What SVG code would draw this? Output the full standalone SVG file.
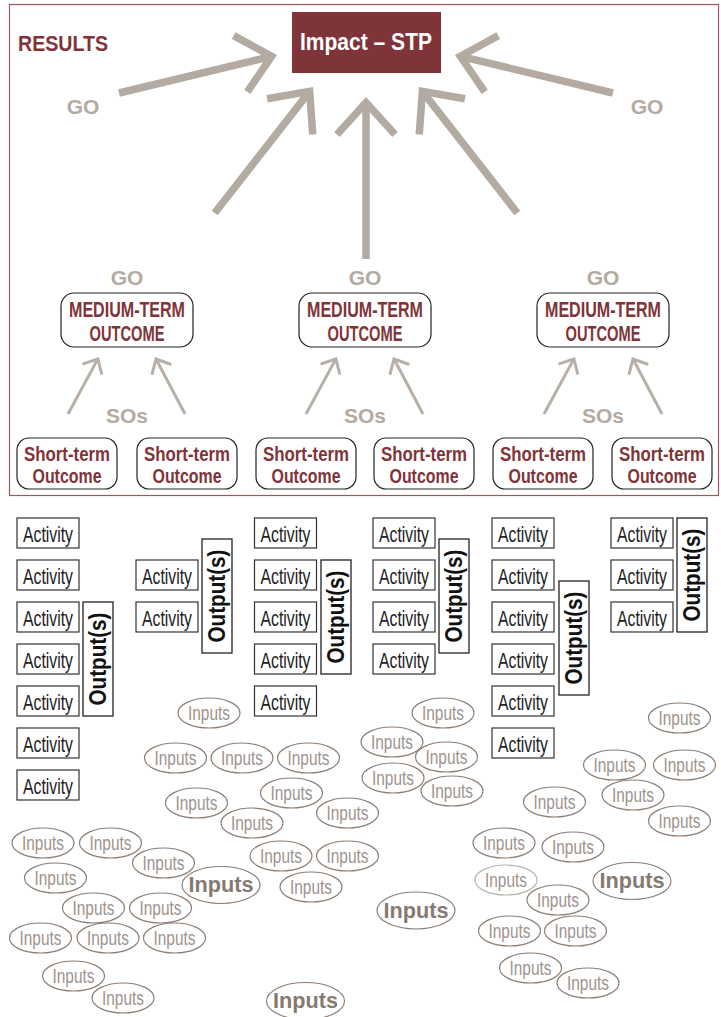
<svg xmlns="http://www.w3.org/2000/svg" width="721" height="1017" viewBox="0 0 721 1017">
<defs>
<marker id="bigHead" markerUnits="userSpaceOnUse" viewBox="-40 -36 48 72" refX="0" refY="0" markerWidth="48" markerHeight="72" orient="auto" overflow="visible">
<path d="M-32,-29 L0,0 L-32,29" fill="none" stroke="#b3aba2" stroke-width="7.5" stroke-linejoin="miter" stroke-miterlimit="10"/>
</marker>
<marker id="smallHead" markerUnits="userSpaceOnUse" viewBox="-16 -14 20 28" refX="0" refY="0" markerWidth="20" markerHeight="28" orient="auto" overflow="visible">
<path d="M-12,-11 L0,0 L-12,11" fill="none" stroke="#b8b0a8" stroke-width="3" stroke-linejoin="miter" stroke-miterlimit="10"/>
</marker>
</defs>
<style>
.sans{font-family:"Liberation Sans",Arial,sans-serif}
.red{fill:#7f3439}
.gray{fill:#b3aba2;font-family:"Liberation Sans",Arial,sans-serif;font-weight:bold;font-size:21px;text-anchor:middle}
.big{fill:none;stroke:#b3aba2;stroke-width:7.5;marker-end:url(#bigHead)}
.small{fill:none;stroke:#b8b0a8;stroke-width:3;marker-end:url(#smallHead)}
.mbox{fill:#fff;stroke:#222;stroke-width:1.2}
.mtxt{font-family:"Liberation Sans",Arial,sans-serif;font-weight:bold;font-size:22px;fill:#7f3439;text-anchor:middle}
.stxt{font-family:"Liberation Sans",Arial,sans-serif;font-weight:bold;font-size:19.5px;fill:#7f3439;text-anchor:middle}
.abox{fill:#fff;stroke:#333;stroke-width:1.2}
.atxt{font-family:"Liberation Sans",Arial,sans-serif;font-size:22px;fill:#222;text-anchor:middle}
.obox{fill:#fff;stroke:#222;stroke-width:1.3}
.otxt{font-family:"Liberation Sans",Arial,sans-serif;font-weight:bold;font-size:23px;fill:#111;text-anchor:middle}
.inp{fill:#fff;stroke:#8c7e74;stroke-width:1.2}
.inpl{fill:#fff;stroke:#bdb3ab;stroke-width:1.2}
.itxt{font-family:"Liberation Sans",Arial,sans-serif;font-size:21px;fill:#9d938c;text-anchor:middle}
.ibtxt{font-family:"Liberation Sans",Arial,sans-serif;font-weight:bold;font-size:22px;fill:#857a72;text-anchor:middle}
</style>
<rect width="721" height="1017" fill="#fff"/>

<g id="results-frame">
<rect x="9.5" y="4.5" width="709" height="491" fill="none" stroke="#a0565c" stroke-width="1.2"/>
<text x="18" y="51" class="sans red" font-weight="bold" font-size="22" textLength="90" lengthAdjust="spacingAndGlyphs">RESULTS</text>
</g>

<g id="connectors">
<line class="big" x1="119" y1="93" x2="271.6" y2="56.3"/>
<line class="big" x1="214.7" y1="213" x2="309.6" y2="91.4"/>
<line class="big" x1="366" y1="259" x2="366" y2="102.6"/>
<line class="big" x1="517.3" y1="213" x2="422.4" y2="91.4"/>
<line class="big" x1="613" y1="93" x2="460.4" y2="56.3"/>
<line class="small" x1="68" y1="414" x2="97.9" y2="358.9"/>
<line class="small" x1="185" y1="414" x2="156" y2="359"/>
<line class="small" x1="306" y1="414" x2="335.9" y2="358.9"/>
<line class="small" x1="423" y1="414" x2="394" y2="359"/>
<line class="small" x1="544" y1="414" x2="573.9" y2="358.9"/>
<line class="small" x1="662" y1="414" x2="633" y2="359"/>
</g>

<g id="labels">
<text class="gray" x="83" y="114">GO</text>
<text class="gray" x="647" y="114">GO</text>
<text class="gray" x="127" y="285">GO</text>
<text class="gray" x="365" y="285">GO</text>
<text class="gray" x="603" y="285">GO</text>
<text class="gray" x="127" y="423">SOs</text>
<text class="gray" x="365" y="423">SOs</text>
<text class="gray" x="603" y="423">SOs</text>
</g>

<g id="impact">
<rect x="292" y="12" width="149" height="61" fill="#7f3439"/>
<text x="366" y="50" class="sans" font-weight="bold" font-size="23.5" fill="#fff" text-anchor="middle" textLength="132" lengthAdjust="spacingAndGlyphs">Impact – STP</text>
</g>

<g id="medium-1">
<rect class="mbox" x="61" y="293" width="132" height="54" rx="13"/>
<text class="mtxt" x="127" y="317" textLength="116" lengthAdjust="spacingAndGlyphs">MEDIUM-TERM</text>
<text class="mtxt" x="127" y="341" textLength="75" lengthAdjust="spacingAndGlyphs">OUTCOME</text>
</g>
<g id="medium-2">
<rect class="mbox" x="299" y="293" width="132" height="54" rx="13"/>
<text class="mtxt" x="365" y="317" textLength="116" lengthAdjust="spacingAndGlyphs">MEDIUM-TERM</text>
<text class="mtxt" x="365" y="341" textLength="75" lengthAdjust="spacingAndGlyphs">OUTCOME</text>
</g>
<g id="medium-3">
<rect class="mbox" x="537" y="293" width="132" height="54" rx="13"/>
<text class="mtxt" x="603" y="317" textLength="116" lengthAdjust="spacingAndGlyphs">MEDIUM-TERM</text>
<text class="mtxt" x="603" y="341" textLength="75" lengthAdjust="spacingAndGlyphs">OUTCOME</text>
</g>

<g id="short-1">
<rect class="mbox" x="17" y="438" width="100" height="51" rx="12"/>
<text class="stxt" x="67" y="461" textLength="86" lengthAdjust="spacingAndGlyphs">Short-term</text>
<text class="stxt" x="67" y="483" textLength="69" lengthAdjust="spacingAndGlyphs">Outcome</text>
</g>
<g id="short-2">
<rect class="mbox" x="137" y="438" width="100" height="51" rx="12"/>
<text class="stxt" x="187" y="461" textLength="86" lengthAdjust="spacingAndGlyphs">Short-term</text>
<text class="stxt" x="187" y="483" textLength="69" lengthAdjust="spacingAndGlyphs">Outcome</text>
</g>
<g id="short-3">
<rect class="mbox" x="256" y="438" width="100" height="51" rx="12"/>
<text class="stxt" x="306" y="461" textLength="86" lengthAdjust="spacingAndGlyphs">Short-term</text>
<text class="stxt" x="306" y="483" textLength="69" lengthAdjust="spacingAndGlyphs">Outcome</text>
</g>
<g id="short-4">
<rect class="mbox" x="374" y="438" width="100" height="51" rx="12"/>
<text class="stxt" x="424" y="461" textLength="86" lengthAdjust="spacingAndGlyphs">Short-term</text>
<text class="stxt" x="424" y="483" textLength="69" lengthAdjust="spacingAndGlyphs">Outcome</text>
</g>
<g id="short-5">
<rect class="mbox" x="493" y="438" width="100" height="51" rx="12"/>
<text class="stxt" x="543" y="461" textLength="86" lengthAdjust="spacingAndGlyphs">Short-term</text>
<text class="stxt" x="543" y="483" textLength="69" lengthAdjust="spacingAndGlyphs">Outcome</text>
</g>
<g id="short-6">
<rect class="mbox" x="612" y="438" width="100" height="51" rx="12"/>
<text class="stxt" x="662" y="461" textLength="86" lengthAdjust="spacingAndGlyphs">Short-term</text>
<text class="stxt" x="662" y="483" textLength="69" lengthAdjust="spacingAndGlyphs">Outcome</text>
</g>

<g id="activities-1">
<rect class="abox" x="17" y="518" width="62" height="30"/><text class="atxt" x="48" y="542" textLength="50" lengthAdjust="spacingAndGlyphs">Activity</text>
<rect class="abox" x="17" y="560" width="62" height="30"/><text class="atxt" x="48" y="584" textLength="50" lengthAdjust="spacingAndGlyphs">Activity</text>
<rect class="abox" x="17" y="602" width="62" height="30"/><text class="atxt" x="48" y="626" textLength="50" lengthAdjust="spacingAndGlyphs">Activity</text>
<rect class="abox" x="17" y="644" width="62" height="30"/><text class="atxt" x="48" y="668" textLength="50" lengthAdjust="spacingAndGlyphs">Activity</text>
<rect class="abox" x="17" y="686" width="62" height="30"/><text class="atxt" x="48" y="710" textLength="50" lengthAdjust="spacingAndGlyphs">Activity</text>
<rect class="abox" x="17" y="728" width="62" height="30"/><text class="atxt" x="48" y="752" textLength="50" lengthAdjust="spacingAndGlyphs">Activity</text>
<rect class="abox" x="17" y="770" width="62" height="30"/><text class="atxt" x="48" y="794" textLength="50" lengthAdjust="spacingAndGlyphs">Activity</text>
</g>
<g id="output-1">
<rect class="obox" x="83" y="602" width="30" height="114"/>
<text class="otxt" transform="translate(106,659) rotate(-90)" textLength="93" lengthAdjust="spacingAndGlyphs">Output(s)</text>
</g>

<g id="activities-2">
<rect class="abox" x="136" y="560" width="62" height="30"/><text class="atxt" x="167" y="584" textLength="50" lengthAdjust="spacingAndGlyphs">Activity</text>
<rect class="abox" x="136" y="602" width="62" height="30"/><text class="atxt" x="167" y="626" textLength="50" lengthAdjust="spacingAndGlyphs">Activity</text>
</g>
<g id="output-2">
<rect class="obox" x="202" y="539" width="30" height="114"/>
<text class="otxt" transform="translate(225,596) rotate(-90)" textLength="93" lengthAdjust="spacingAndGlyphs">Output(s)</text>
</g>

<g id="activities-3">
<rect class="abox" x="254.5" y="518" width="62" height="30"/><text class="atxt" x="285.5" y="542" textLength="50" lengthAdjust="spacingAndGlyphs">Activity</text>
<rect class="abox" x="254.5" y="560" width="62" height="30"/><text class="atxt" x="285.5" y="584" textLength="50" lengthAdjust="spacingAndGlyphs">Activity</text>
<rect class="abox" x="254.5" y="602" width="62" height="30"/><text class="atxt" x="285.5" y="626" textLength="50" lengthAdjust="spacingAndGlyphs">Activity</text>
<rect class="abox" x="254.5" y="644" width="62" height="30"/><text class="atxt" x="285.5" y="668" textLength="50" lengthAdjust="spacingAndGlyphs">Activity</text>
<rect class="abox" x="254.5" y="686" width="62" height="30"/><text class="atxt" x="285.5" y="710" textLength="50" lengthAdjust="spacingAndGlyphs">Activity</text>
</g>
<g id="output-3">
<rect class="obox" x="321" y="560" width="30" height="114"/>
<text class="otxt" transform="translate(344,617) rotate(-90)" textLength="93" lengthAdjust="spacingAndGlyphs">Output(s)</text>
</g>

<g id="activities-4">
<rect class="abox" x="373" y="518" width="62" height="30"/><text class="atxt" x="404" y="542" textLength="50" lengthAdjust="spacingAndGlyphs">Activity</text>
<rect class="abox" x="373" y="560" width="62" height="30"/><text class="atxt" x="404" y="584" textLength="50" lengthAdjust="spacingAndGlyphs">Activity</text>
<rect class="abox" x="373" y="602" width="62" height="30"/><text class="atxt" x="404" y="626" textLength="50" lengthAdjust="spacingAndGlyphs">Activity</text>
<rect class="abox" x="373" y="644" width="62" height="30"/><text class="atxt" x="404" y="668" textLength="50" lengthAdjust="spacingAndGlyphs">Activity</text>
</g>
<g id="output-4">
<rect class="obox" x="439" y="539" width="30" height="114"/>
<text class="otxt" transform="translate(462,596) rotate(-90)" textLength="93" lengthAdjust="spacingAndGlyphs">Output(s)</text>
</g>

<g id="activities-5">
<rect class="abox" x="492" y="518" width="62" height="30"/><text class="atxt" x="523" y="542" textLength="50" lengthAdjust="spacingAndGlyphs">Activity</text>
<rect class="abox" x="492" y="560" width="62" height="30"/><text class="atxt" x="523" y="584" textLength="50" lengthAdjust="spacingAndGlyphs">Activity</text>
<rect class="abox" x="492" y="602" width="62" height="30"/><text class="atxt" x="523" y="626" textLength="50" lengthAdjust="spacingAndGlyphs">Activity</text>
<rect class="abox" x="492" y="644" width="62" height="30"/><text class="atxt" x="523" y="668" textLength="50" lengthAdjust="spacingAndGlyphs">Activity</text>
<rect class="abox" x="492" y="686" width="62" height="30"/><text class="atxt" x="523" y="710" textLength="50" lengthAdjust="spacingAndGlyphs">Activity</text>
<rect class="abox" x="492" y="728" width="62" height="30"/><text class="atxt" x="523" y="752" textLength="50" lengthAdjust="spacingAndGlyphs">Activity</text>
</g>
<g id="output-5">
<rect class="obox" x="559" y="581" width="30" height="114"/>
<text class="otxt" transform="translate(582,638) rotate(-90)" textLength="93" lengthAdjust="spacingAndGlyphs">Output(s)</text>
</g>

<g id="activities-6">
<rect class="abox" x="611" y="518" width="62" height="30"/><text class="atxt" x="642" y="542" textLength="50" lengthAdjust="spacingAndGlyphs">Activity</text>
<rect class="abox" x="611" y="560" width="62" height="30"/><text class="atxt" x="642" y="584" textLength="50" lengthAdjust="spacingAndGlyphs">Activity</text>
<rect class="abox" x="611" y="602" width="62" height="30"/><text class="atxt" x="642" y="626" textLength="50" lengthAdjust="spacingAndGlyphs">Activity</text>
</g>
<g id="output-6">
<rect class="obox" x="677" y="518" width="30" height="114"/>
<text class="otxt" transform="translate(700,575) rotate(-90)" textLength="93" lengthAdjust="spacingAndGlyphs">Output(s)</text>
</g>

<g id="inputs">
<g><ellipse class="inp" cx="209" cy="713" rx="31" ry="15"/><text class="itxt" x="209" y="720" textLength="42" lengthAdjust="spacingAndGlyphs">Inputs</text></g>
<g><ellipse class="inp" cx="175.5" cy="758" rx="31" ry="15"/><text class="itxt" x="175.5" y="765" textLength="42" lengthAdjust="spacingAndGlyphs">Inputs</text></g>
<g><ellipse class="inp" cx="242" cy="758" rx="31" ry="15"/><text class="itxt" x="242" y="765" textLength="42" lengthAdjust="spacingAndGlyphs">Inputs</text></g>
<g><ellipse class="inp" cx="308.5" cy="758" rx="31" ry="15"/><text class="itxt" x="308.5" y="765" textLength="42" lengthAdjust="spacingAndGlyphs">Inputs</text></g>
<g><ellipse class="inp" cx="196.5" cy="803" rx="31" ry="15"/><text class="itxt" x="196.5" y="810" textLength="42" lengthAdjust="spacingAndGlyphs">Inputs</text></g>
<g><ellipse class="inp" cx="291.5" cy="793" rx="31" ry="15"/><text class="itxt" x="291.5" y="800" textLength="42" lengthAdjust="spacingAndGlyphs">Inputs</text></g>
<g><ellipse class="inp" cx="252" cy="823" rx="31" ry="15"/><text class="itxt" x="252" y="830" textLength="42" lengthAdjust="spacingAndGlyphs">Inputs</text></g>
<g><ellipse class="inp" cx="347.5" cy="813" rx="31" ry="15"/><text class="itxt" x="347.5" y="820" textLength="42" lengthAdjust="spacingAndGlyphs">Inputs</text></g>
<g><ellipse class="inp" cx="281" cy="856" rx="31" ry="15"/><text class="itxt" x="281" y="863" textLength="42" lengthAdjust="spacingAndGlyphs">Inputs</text></g>
<g><ellipse class="inp" cx="347.5" cy="856" rx="31" ry="15"/><text class="itxt" x="347.5" y="863" textLength="42" lengthAdjust="spacingAndGlyphs">Inputs</text></g>
<g><ellipse class="inp" cx="311" cy="887" rx="31" ry="15"/><text class="itxt" x="311" y="894" textLength="42" lengthAdjust="spacingAndGlyphs">Inputs</text></g>
<g><ellipse class="inp" cx="43" cy="843" rx="31" ry="15"/><text class="itxt" x="43" y="850" textLength="42" lengthAdjust="spacingAndGlyphs">Inputs</text></g>
<g><ellipse class="inp" cx="110.5" cy="843" rx="31" ry="15"/><text class="itxt" x="110.5" y="850" textLength="42" lengthAdjust="spacingAndGlyphs">Inputs</text></g>
<g><ellipse class="inp" cx="163.5" cy="863" rx="31" ry="15"/><text class="itxt" x="163.5" y="870" textLength="42" lengthAdjust="spacingAndGlyphs">Inputs</text></g>
<g><ellipse class="inp" cx="55.5" cy="878" rx="31" ry="15"/><text class="itxt" x="55.5" y="885" textLength="42" lengthAdjust="spacingAndGlyphs">Inputs</text></g>
<g><ellipse class="inp" cx="221" cy="885" rx="39" ry="18.5"/><text class="ibtxt" x="221" y="892" textLength="65" lengthAdjust="spacingAndGlyphs">Inputs</text></g>
<g><ellipse class="inp" cx="93.5" cy="908" rx="31" ry="15"/><text class="itxt" x="93.5" y="915" textLength="42" lengthAdjust="spacingAndGlyphs">Inputs</text></g>
<g><ellipse class="inp" cx="160.5" cy="908" rx="31" ry="15"/><text class="itxt" x="160.5" y="915" textLength="42" lengthAdjust="spacingAndGlyphs">Inputs</text></g>
<g><ellipse class="inp" cx="40.5" cy="938" rx="31" ry="15"/><text class="itxt" x="40.5" y="945" textLength="42" lengthAdjust="spacingAndGlyphs">Inputs</text></g>
<g><ellipse class="inp" cx="108" cy="938" rx="31" ry="15"/><text class="itxt" x="108" y="945" textLength="42" lengthAdjust="spacingAndGlyphs">Inputs</text></g>
<g><ellipse class="inp" cx="174.5" cy="938" rx="31" ry="15"/><text class="itxt" x="174.5" y="945" textLength="42" lengthAdjust="spacingAndGlyphs">Inputs</text></g>
<g><ellipse class="inp" cx="73.5" cy="976" rx="31" ry="15"/><text class="itxt" x="73.5" y="983" textLength="42" lengthAdjust="spacingAndGlyphs">Inputs</text></g>
<g><ellipse class="inp" cx="123" cy="998" rx="31" ry="15"/><text class="itxt" x="123" y="1005" textLength="42" lengthAdjust="spacingAndGlyphs">Inputs</text></g>
<g><ellipse class="inp" cx="305.5" cy="1001" rx="39" ry="18.5"/><text class="ibtxt" x="305.5" y="1008" textLength="65" lengthAdjust="spacingAndGlyphs">Inputs</text></g>
<g><ellipse class="inp" cx="443" cy="713" rx="31" ry="15"/><text class="itxt" x="443" y="720" textLength="42" lengthAdjust="spacingAndGlyphs">Inputs</text></g>
<g><ellipse class="inp" cx="392" cy="742" rx="31" ry="15"/><text class="itxt" x="392" y="749" textLength="42" lengthAdjust="spacingAndGlyphs">Inputs</text></g>
<g><ellipse class="inp" cx="446.5" cy="757" rx="31" ry="15"/><text class="itxt" x="446.5" y="764" textLength="42" lengthAdjust="spacingAndGlyphs">Inputs</text></g>
<g><ellipse class="inp" cx="393" cy="778" rx="31" ry="15"/><text class="itxt" x="393" y="785" textLength="42" lengthAdjust="spacingAndGlyphs">Inputs</text></g>
<g><ellipse class="inp" cx="452" cy="791" rx="31" ry="15"/><text class="itxt" x="452" y="798" textLength="42" lengthAdjust="spacingAndGlyphs">Inputs</text></g>
<g><ellipse class="inp" cx="679.5" cy="718" rx="31" ry="15"/><text class="itxt" x="679.5" y="725" textLength="42" lengthAdjust="spacingAndGlyphs">Inputs</text></g>
<g><ellipse class="inp" cx="614.5" cy="765" rx="31" ry="15"/><text class="itxt" x="614.5" y="772" textLength="42" lengthAdjust="spacingAndGlyphs">Inputs</text></g>
<g><ellipse class="inp" cx="684.5" cy="765" rx="31" ry="15"/><text class="itxt" x="684.5" y="772" textLength="42" lengthAdjust="spacingAndGlyphs">Inputs</text></g>
<g><ellipse class="inp" cx="633" cy="795" rx="31" ry="15"/><text class="itxt" x="633" y="802" textLength="42" lengthAdjust="spacingAndGlyphs">Inputs</text></g>
<g><ellipse class="inp" cx="554.5" cy="802" rx="31" ry="15"/><text class="itxt" x="554.5" y="809" textLength="42" lengthAdjust="spacingAndGlyphs">Inputs</text></g>
<g><ellipse class="inp" cx="679.5" cy="821" rx="31" ry="15"/><text class="itxt" x="679.5" y="828" textLength="42" lengthAdjust="spacingAndGlyphs">Inputs</text></g>
<g><ellipse class="inp" cx="504" cy="843" rx="31" ry="15"/><text class="itxt" x="504" y="850" textLength="42" lengthAdjust="spacingAndGlyphs">Inputs</text></g>
<g><ellipse class="inp" cx="573" cy="847" rx="31" ry="15"/><text class="itxt" x="573" y="854" textLength="42" lengthAdjust="spacingAndGlyphs">Inputs</text></g>
<g><ellipse class="inpl" cx="506" cy="880" rx="31" ry="15"/><text class="itxt" x="506" y="887" textLength="42" lengthAdjust="spacingAndGlyphs">Inputs</text></g>
<g><ellipse class="inp" cx="632" cy="881" rx="39" ry="18.5"/><text class="ibtxt" x="632" y="888" textLength="65" lengthAdjust="spacingAndGlyphs">Inputs</text></g>
<g><ellipse class="inp" cx="558" cy="900" rx="31" ry="15"/><text class="itxt" x="558" y="907" textLength="42" lengthAdjust="spacingAndGlyphs">Inputs</text></g>
<g><ellipse class="inp" cx="509.5" cy="931" rx="31" ry="15"/><text class="itxt" x="509.5" y="938" textLength="42" lengthAdjust="spacingAndGlyphs">Inputs</text></g>
<g><ellipse class="inp" cx="575.5" cy="931" rx="31" ry="15"/><text class="itxt" x="575.5" y="938" textLength="42" lengthAdjust="spacingAndGlyphs">Inputs</text></g>
<g><ellipse class="inp" cx="530.5" cy="968" rx="31" ry="15"/><text class="itxt" x="530.5" y="975" textLength="42" lengthAdjust="spacingAndGlyphs">Inputs</text></g>
<g><ellipse class="inp" cx="588" cy="983" rx="31" ry="15"/><text class="itxt" x="588" y="990" textLength="42" lengthAdjust="spacingAndGlyphs">Inputs</text></g>
<g><ellipse class="inp" cx="416" cy="910.5" rx="39" ry="18.5"/><text class="ibtxt" x="416" y="917.5" textLength="65" lengthAdjust="spacingAndGlyphs">Inputs</text></g>
</g>
</svg>
